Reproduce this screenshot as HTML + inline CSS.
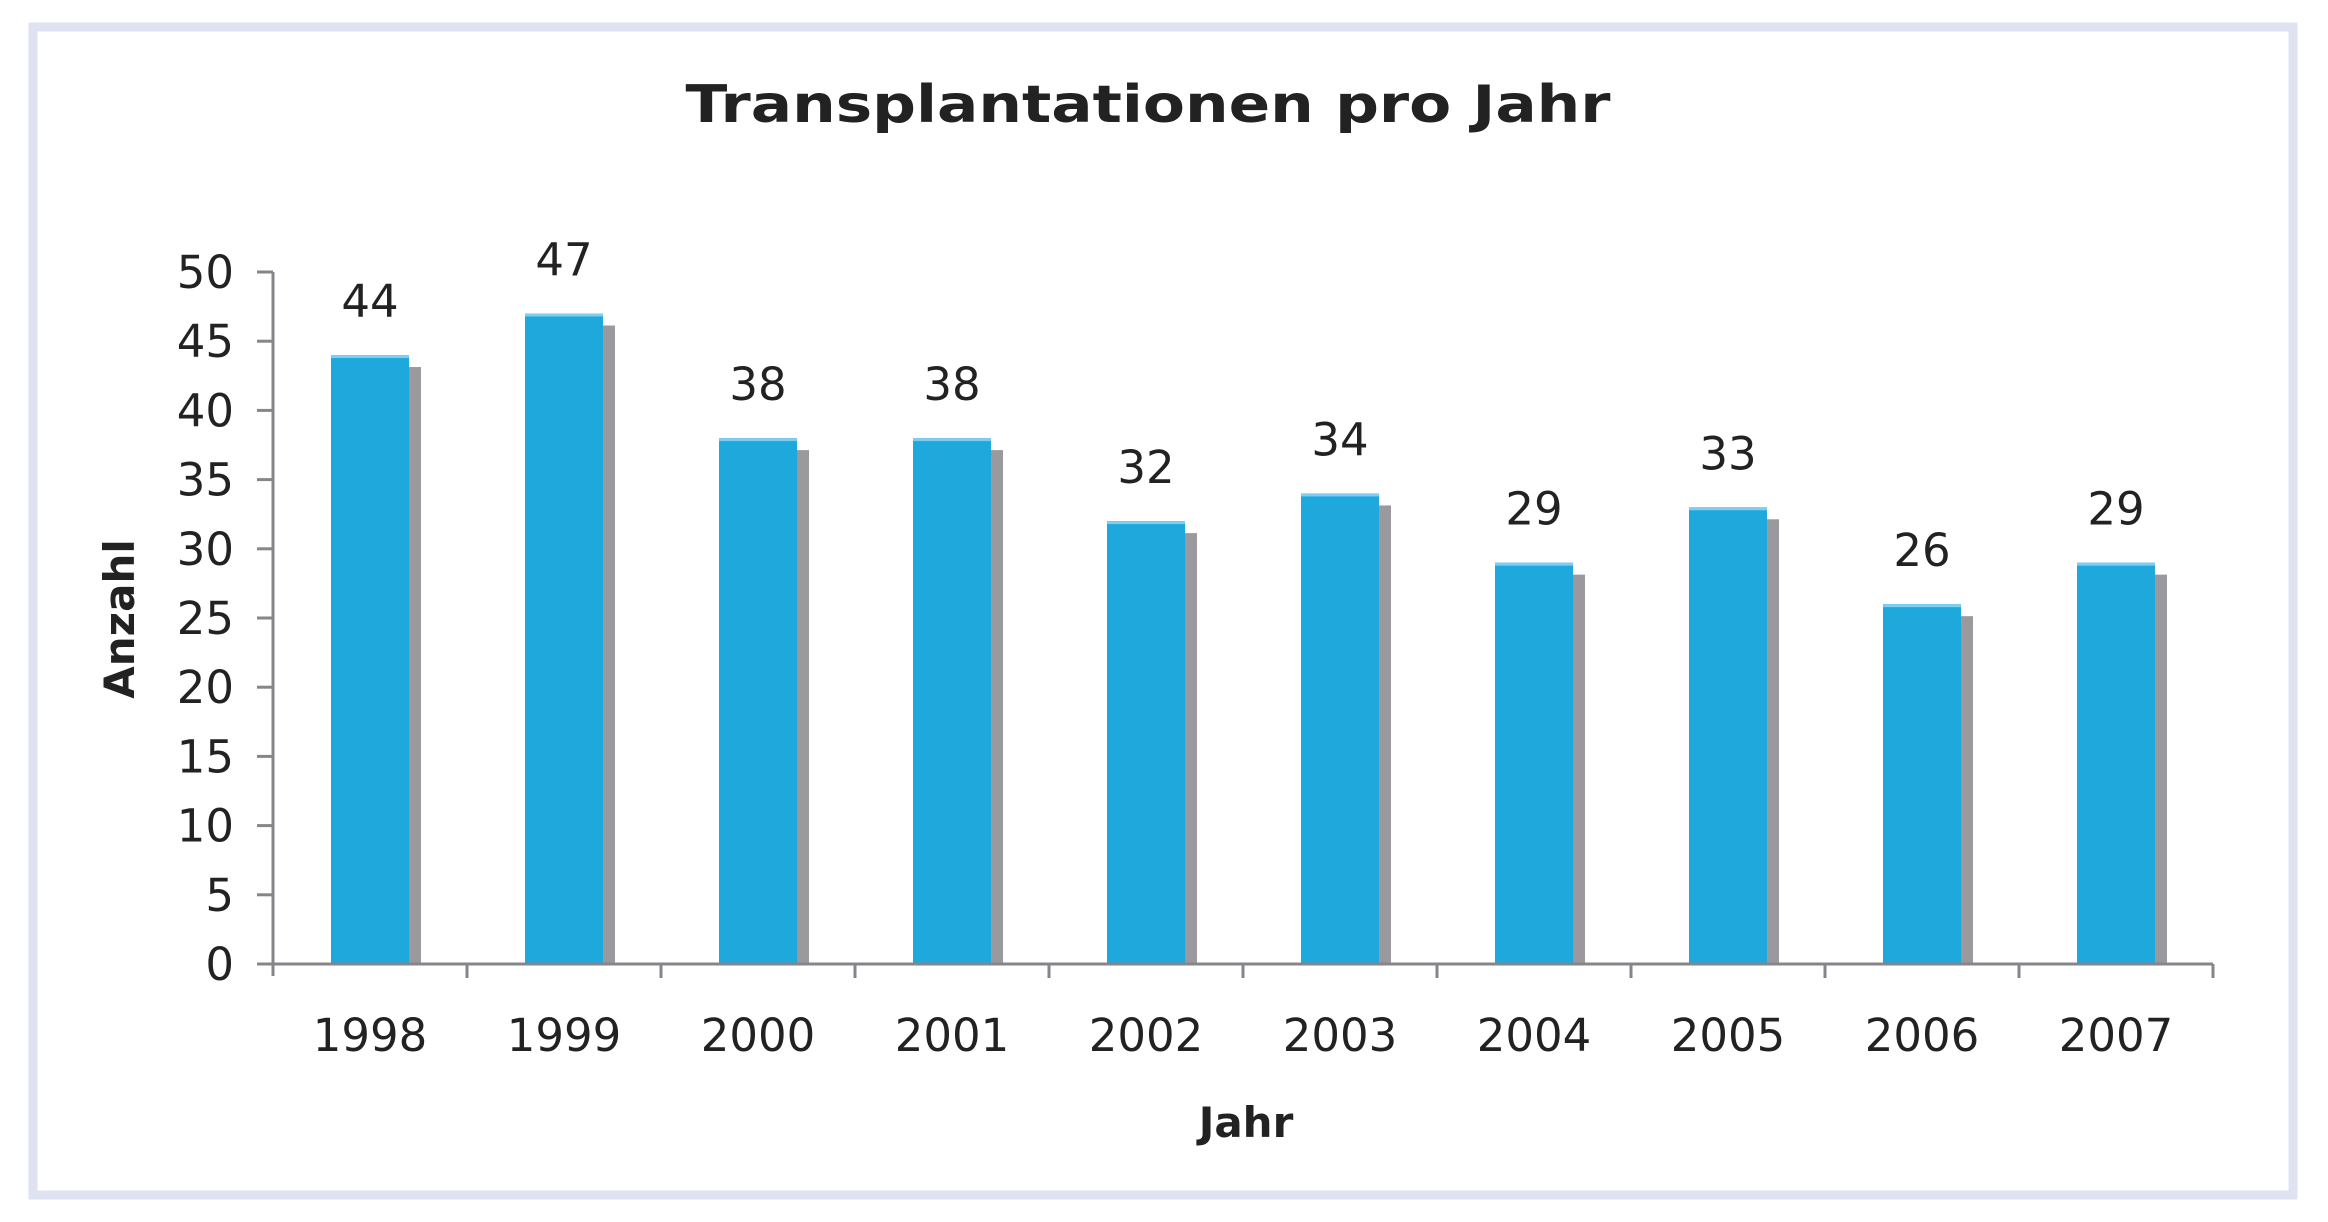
<!DOCTYPE html>
<html><head><meta charset="utf-8"><style>
html,body{margin:0;padding:0;background:#fff;}
svg{display:block;}
</style></head><body>
<svg id="chart" width="2328" height="1222" xmlns="http://www.w3.org/2000/svg">
<rect x="33" y="27" width="2260" height="1168" fill="#fff" stroke="#dfe3f1" stroke-width="9"/>
<text x="1148" y="122" text-anchor="middle" font-family="DejaVu Sans, Liberation Sans, sans-serif" font-weight="bold" font-size="52" textLength="925" lengthAdjust="spacingAndGlyphs" fill="#222">Transplantationen pro Jahr</text>
<text transform="translate(134,619) rotate(-90)" text-anchor="middle" font-family="DejaVu Sans, Liberation Sans, sans-serif" font-weight="bold" font-size="42" fill="#222">Anzahl</text>
<text x="1246" y="1137" text-anchor="middle" font-family="DejaVu Sans, Liberation Sans, sans-serif" font-weight="bold" font-size="42" fill="#222">Jahr</text>
<g id="plot"></g>
</svg>
<script>
const categories = ["1998","1999","2000","2001","2002","2003","2004","2005","2006","2007"];
const values = [44,47,38,38,32,34,29,33,26,29];
const yTicks = [0,5,10,15,20,25,30,35,40,45,50];
const yMax = 50;

const NS = "http://www.w3.org/2000/svg";
const g = document.getElementById("plot");
const X0 = 273, X1 = 2213, Y0 = 964, Y50 = 272;
const band = (X1 - X0) / categories.length;
const FONT = "DejaVu Sans, Liberation Sans, sans-serif";
function yScale(v){ return Y0 - (v / yMax) * (Y0 - Y50); }
function xCenter(i){ return X0 + band * (i + 0.5); }
function mk(tag, attrs){ const e = document.createElementNS(NS, tag); for (const k in attrs) e.setAttribute(k, attrs[k]); g.appendChild(e); return e; }

const barW = 78;
categories.forEach((c, i) => {
  const cx = xCenter(i), top = yScale(values[i]);
  const sh = mk("rect", {x: cx - barW/2 + 12, y: top + 12, width: barW, height: Y0 - top - 12, fill: "#9a9a9e"});
  
  
  const b = mk("rect", {x: cx - barW/2, y: top, width: barW, height: Y0 - top, fill: "#1ea8dc"});
  
  
  const hl = mk("rect", {x: cx - barW/2, y: top, width: barW, height: 3, fill: "#7fcdf0"});
  
  
  const lbl = mk("text", {x: cx, y: top - 38, "text-anchor": "middle", "font-family": FONT, "font-size": "45", fill: "#222"});
  lbl.textContent = values[i];
  
  
  const xl = mk("text", {x: cx, y: 1051, "text-anchor": "middle", "font-family": FONT, "font-size": "45", fill: "#222"});
  xl.textContent = c;
  
  
});

const ya = mk("line", {x1: X0, y1: Y50, x2: X0, y2: Y0 + 12, stroke: "#85858a", "stroke-width": 3});


const xa = mk("line", {x1: X0 - 16, y1: Y0, x2: X1, y2: Y0, stroke: "#85858a", "stroke-width": 3});



yTicks.forEach(t => {
  const y = yScale(t);
  const tk = mk("line", {x1: X0 - 16, y1: y, x2: X0, y2: y, stroke: "#85858a", "stroke-width": 3});
  
  
  const tl = mk("text", {x: 234, y: y + 16, "text-anchor": "end", "font-family": FONT, "font-size": "45", fill: "#222"});
  tl.textContent = t;
  
  
});
for (let i = 1; i <= categories.length; i++) {
  const x = X0 + band * i;
  const tk = mk("line", {x1: x, y1: Y0, x2: x, y2: Y0 + 14, stroke: "#85858a", "stroke-width": 3});
  
  
}
</script>
</body></html>
